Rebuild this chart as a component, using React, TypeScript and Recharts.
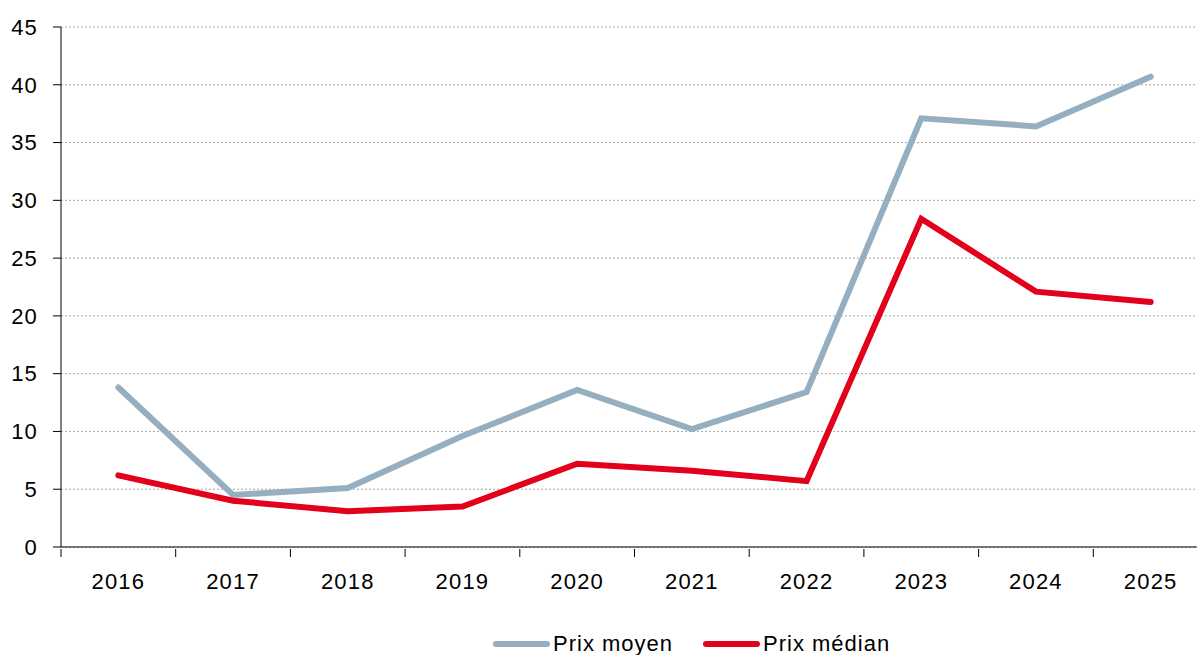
import { LineChart, Line, XAxis, YAxis, CartesianGrid, Legend } from "recharts";

const years = ["2016", "2017", "2018", "2019", "2020", "2021", "2022", "2023", "2024", "2025"];
const prixMoyen = [13.8, 4.5, 5.1, 9.6, 13.6, 10.2, 13.4, 37.1, 36.4, 40.7];
const prixMedian = [6.2, 4.0, 3.1, 3.5, 7.2, 6.6, 5.7, 28.4, 22.1, 21.2];
const yTicks = [0, 5, 10, 15, 20, 25, 30, 35, 40, 45];

const GRAY = "#95aec0";
const RED = "#e2001a";
const FONT = "'Liberation Sans', Arial, sans-serif";

const data = years.map((year, i) => ({
  year,
  moyen: prixMoyen[i],
  median: prixMedian[i],
}));

const CHART_W = 1210;
const MARGIN = { top: 27, right: 2, left: 0, bottom: 0 };
const Y_W = 61;
const BAND = (CHART_W - MARGIN.right - MARGIN.left - Y_W) / years.length;

// label at band centre, tick mark on the band's left edge
function XTick(props: any) {
  const { x, y, payload } = props;
  const left = x - BAND / 2;
  return (
    <g>
      <line x1={left} y1={y - 8} x2={left} y2={y} stroke="#000" strokeWidth={1} />
      <text
        x={x}
        y={y + 32}
        textAnchor="middle"
        fontSize={22}
        letterSpacing={1.2}
        fontFamily={FONT}
        fill="#000"
      >
        {payload.value}
      </text>
    </g>
  );
}

const legendItems = [
  { label: "Prix moyen", color: GRAY },
  { label: "Prix médian", color: RED },
];

function LegendBox() {
  return (
    <div
      style={{
        display: "flex",
        alignItems: "center",
        fontFamily: FONT,
        fontSize: 22,
        letterSpacing: 1,
        color: "#000",
        whiteSpace: "nowrap",
      }}
    >
      {legendItems.map((it) => (
        <div key={it.label} style={{ display: "flex", alignItems: "center", marginRight: 30 }}>
          <span
            style={{
              display: "inline-block",
              width: 57,
              height: 6,
              borderRadius: 3,
              background: it.color,
              marginRight: 3,
            }}
          />
          <span>{it.label}</span>
        </div>
      ))}
    </div>
  );
}

export default function App() {
  return (
    <div
      style={{
        position: "absolute",
        left: 0,
        top: 0,
        width: 1197,
        height: 655,
        overflow: "hidden",
        background: "#fff",
      }}
    >
      <LineChart width={CHART_W} height={680} data={data} margin={MARGIN}>
        <CartesianGrid vertical={false} stroke="#a6a6a6" strokeDasharray="2 2" />
        <XAxis
          dataKey="year"
          scale="band"
          axisLine={{ stroke: "#000" }}
          tickLine={false}
          tickSize={8}
          height={107}
          interval={0}
          tick={<XTick />}
        />
        <YAxis
          domain={[0, 45]}
          ticks={yTicks}
          width={Y_W}
          axisLine={{ stroke: "#000" }}
          tickLine={{ stroke: "#000" }}
          tickSize={8}
          tickMargin={15}
          interval={0}
          tick={{ fontSize: 22, fontFamily: FONT, fill: "#000", letterSpacing: 1.2 }}
        />
        <Legend
          content={<LegendBox />}
          wrapperStyle={{ position: "absolute", top: 631, left: 493, width: "auto" }}
        />
        <Line
          type="linear"
          dataKey="moyen"
          name="Prix moyen"
          stroke={GRAY}
          strokeWidth={6}
          strokeLinecap="round"
          dot={false}
          activeDot={false}
          isAnimationActive={false}
        />
        <Line
          type="linear"
          dataKey="median"
          name="Prix médian"
          stroke={RED}
          strokeWidth={6}
          strokeLinecap="round"
          dot={false}
          activeDot={false}
          isAnimationActive={false}
        />
      </LineChart>
    </div>
  );
}
